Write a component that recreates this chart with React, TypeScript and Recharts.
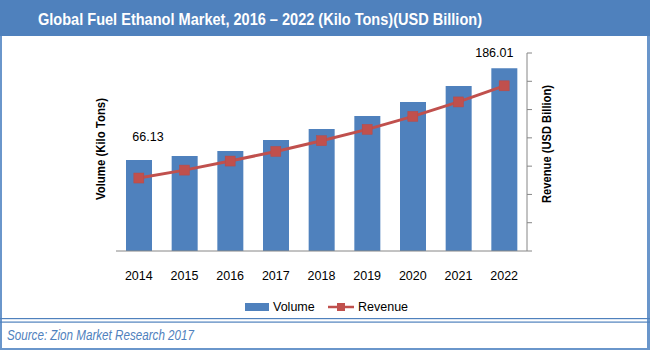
import React from "react";
import { ComposedChart, Bar, Line, XAxis, YAxis, LabelList } from "recharts";

const years = ["2014", "2015", "2016", "2017", "2018", "2019", "2020", "2021", "2022"];
const volume = [66.13, 71.4, 77.9, 92.3, 106.7, 123.6, 142.0, 162.9, 186.01];
const revenue = [25.8, 28.6, 31.8, 35.2, 39.0, 43.0, 47.6, 52.7, 58.4];
const volumeDomain = [-52.8, 206.0];
const revenueTicks = [0, 10, 20, 30, 40, 50, 60, 70];
const shownLabels = [0, 8];

const data = years.map((year, i) => ({ year, volume: volume[i], revenue: revenue[i] }));

const BLUE = "#4f81bd";
const RED = "#c0504d";
const FONT = "'Liberation Sans', Arial, sans-serif";

const VolumeLabel = (props: any) => {
  const { x, y, width, index, value } = props;
  if (!shownLabels.includes(index)) return null;
  const v = Array.isArray(value) ? value[1] : value;
  const dx = index === 0 ? 9 : -10;
  const dy = index === 0 ? -19 : -11;
  return (
    <text x={x + width / 2 + dx} y={y + dy} textAnchor="middle" fontSize={12.5} fontFamily={FONT} fill="#000">
      {v}
    </text>
  );
};

export default function App() {
  return (
    <div style={{ position: "absolute", left: 0, top: 0, width: 650, height: 350, background: "#fff" }}>
      <svg width={650} height={350} style={{ position: "absolute", left: 0, top: 0 }}>
        <rect x={0} y={0} width={650} height={36} fill={BLUE} />
        <text x={38} y={24.5} fontSize={17} fontWeight="bold" fontFamily={FONT} fill="#fff" textLength={444} lengthAdjust="spacingAndGlyphs">
          Global Fuel Ethanol Market, 2016 – 2022 (Kilo Tons)(USD Billion)
        </text>
        <rect x={0} y={36} width={2} height={314} fill="#6a96cb" />
        <rect x={647} y={36} width={3} height={314} fill="#6a96cb" />
        <rect x={0} y={348} width={650} height={2} fill="#6a96cb" />
        <rect x={0} y={318} width={650} height={1.2} fill={BLUE} />
        <rect x={0} y={321.5} width={650} height={1.2} fill={BLUE} />
        <text x={7} y={339.5} fontSize={14} fontStyle="italic" fontFamily={FONT} fill={BLUE} textLength={187} lengthAdjust="spacingAndGlyphs">
          Source: Zion Market Research 2017
        </text>
        <text transform="translate(105,149) rotate(-90)" textAnchor="middle" fontSize={12} fontWeight="bold" fontFamily={FONT} fill="#000" textLength={102} lengthAdjust="spacingAndGlyphs">
          Volume (Kilo Tons)
        </text>
        <text transform="translate(551,144) rotate(-90)" textAnchor="middle" fontSize={12} fontWeight="bold" fontFamily={FONT} fill="#000" textLength={118} lengthAdjust="spacingAndGlyphs">
          Revenue (USD Billion)
        </text>
        <rect x={245} y={303} width={24} height={8} fill={BLUE} />
        <text x={273} y={311} fontSize={12.5} fontFamily={FONT} fill="#000">Volume</text>
        <line x1={328} y1={307} x2={354} y2={307} stroke={RED} strokeWidth={2.5} />
        <rect x={337} y={303} width={8} height={8} fill={RED} />
        <text x={358} y={311} fontSize={12.5} fontFamily={FONT} fill="#000">Revenue</text>
      </svg>
      <div style={{ position: "absolute", left: 0, top: 0 }}>
        <ComposedChart width={650} height={350} data={data} margin={{ top: 53, right: 122, left: 116, bottom: 69 }}>
          <XAxis
            dataKey="year"
            height={30}
            axisLine={{ stroke: "#868686" }}
            tickLine={false}
            tick={{ fontSize: 12.5, fill: "#000", fontFamily: FONT }}
            tickMargin={14}
            interval={0}
          />
          <YAxis
            yAxisId="left"
            width={0}
            domain={volumeDomain}
            allowDataOverflow
            tick={false}
            tickLine={false}
            axisLine={{ stroke: "#868686" }}
          />
          <YAxis
            yAxisId="right"
            orientation="right"
            width={1}
            domain={[0, 70]}
            ticks={revenueTicks}
            interval={0}
            tickFormatter={() => ""}
            tick={{ fontSize: 1 }}
            tickSize={5}
            tickLine={{ stroke: "#868686" }}
            axisLine={{ stroke: "#868686" }}
          />
          <Bar
            yAxisId="left"
            dataKey={(d: any) => [volumeDomain[0], d.volume]}
            fill={BLUE}
            barSize={26}
            isAnimationActive={false}
          >
            <LabelList content={<VolumeLabel />} />
          </Bar>
          <Line
            yAxisId="right"
            dataKey="revenue"
            stroke={RED}
            strokeWidth={3}
            isAnimationActive={false}
            dot={(p: any) => (
              <rect key={p.index} x={p.cx - 5} y={p.cy - 5} width={10} height={10} fill={RED} stroke="#b94a47" strokeWidth={0.5} />
            )}
            activeDot={false}
          />
        </ComposedChart>
      </div>
    </div>
  );
}
